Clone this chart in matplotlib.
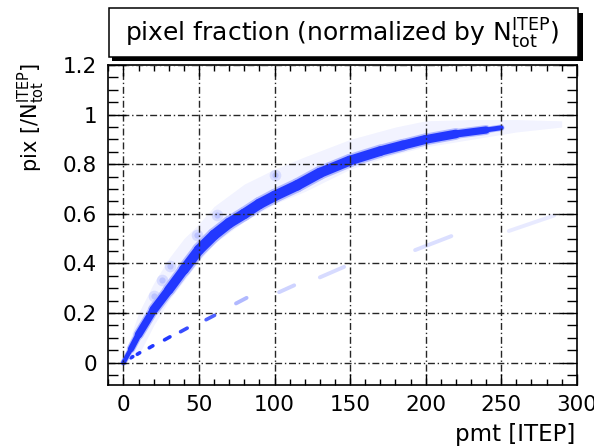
import numpy as np
import matplotlib
matplotlib.use('Agg')
import matplotlib.pyplot as plt
from matplotlib.collections import LineCollection
from matplotlib.patches import Rectangle
from matplotlib.ticker import MultipleLocator, FixedLocator, FixedFormatter

# ---- data ----
# dense main band (centre line)
pmt_band = [0, 5, 10, 20, 30, 40, 50, 60, 70, 80, 90, 100, 115, 130, 150,
            170, 185, 200, 220, 240, 250]
pix_band = [0, 0.055, 0.113, 0.213, 0.293, 0.375, 0.455, 0.515, 0.563, 0.60,
            0.64, 0.672, 0.715, 0.765, 0.815, 0.853, 0.877, 0.90, 0.922,
            0.938, 0.947]
band_width = [2.5, 4, 5, 6, 6.5, 7, 7.5, 7.5, 7.5, 7.5, 7.5, 7.5, 7.5, 7.5,
              7, 7, 6.5, 6.5, 6, 4.5, 2.5]

# faint scatter envelope around the band
halo_pmt = [0, 10, 20, 30, 40, 50, 60, 80, 100, 120, 150, 180, 200, 230,
            260, 290]
halo_lo = [0, 0.03, 0.15, 0.25, 0.33, 0.41, 0.48, 0.57, 0.64, 0.69, 0.78,
           0.84, 0.87, 0.90, 0.93, 0.95]
halo_hi = [0.02, 0.20, 0.32, 0.42, 0.50, 0.56, 0.63, 0.72, 0.78, 0.83, 0.90,
           0.95, 0.975, 0.98, 0.98, 0.975]

# denser blobs above the band
blob_pmt = [20, 25.5, 31, 49, 62, 100]
blob_pix = [0.27, 0.334, 0.39, 0.515, 0.597, 0.755]

# secondary (lower) clusters
sec_pmt = [5.6, 10, 18.3, 29, 40, 57.5, 78, 108, 138, 205, 270]
sec_pix = [0.022, 0.037, 0.064, 0.098, 0.132, 0.182, 0.25, 0.298, 0.365,
           0.482, 0.562]
sec_half = [0.6, 0.8, 1.2, 1.8, 2.2, 2.8, 3.5, 5, 8, 12, 15]
sec_weight = [1, 1, 1, 1, 0.9, 0.8, 0.35, 0.22, 0.18, 0.16, 0.1]

x_ticks = [0, 50, 100, 150, 200, 250, 300]
x_ticklabels = ['0', '50', '100', '150', '200', '250', '300']
y_ticks = [0, 0.2, 0.4, 0.6, 0.8, 1.0, 1.2]
y_ticklabels = ['0', '0.2', '0.4', '0.6', '0.8', '1', '1.2']

title = r'pixel fraction (normalized by N$^{\rm ITEP}_{\rm tot}$)'
xlabel = 'pmt [ITEP]'
ylabel = r'pix [/N$^{\rm ITEP}_{\rm tot}$]'

# ---- drawing ----
plt.rcParams['font.family'] = ['DejaVu Sans']
plt.rcParams['mathtext.fontset'] = 'dejavusans'

W, H = 594, 446
fig = plt.figure(figsize=(W / 100, H / 100), dpi=100)
ax = fig.add_axes([108.3 / W, 1 - 385 / H, 468.5 / W, 320 / H])
ax.set_xlim(-10, 300)
ax.set_ylim(-0.09, 1.2)

BLUE = '#2238ff'

# faint envelope
ax.fill_between(halo_pmt, halo_lo, halo_hi, color=BLUE, alpha=0.06, lw=0,
                zorder=1)
ax.scatter(blob_pmt, blob_pix, s=70, color=BLUE, alpha=0.12, lw=0, zorder=1)
ax.scatter(blob_pmt, blob_pix, s=20, color=BLUE, alpha=0.15, lw=0, zorder=1)

# secondary clusters
sx = np.array(sec_pmt)
sy = np.array(sec_pix)
slope = sy / sx
for x, y, h, w, k in zip(sx, sy, sec_half, sec_weight, slope):
    lw = 2.6 if x < 70 else 2.8
    ax.plot([x - h, x + h], [y - h * k, y + h * k], color=BLUE, alpha=w,
            lw=lw, solid_capstyle='round', zorder=1.5)

# main band
pts = np.column_stack([pmt_band, pix_band])
segs = np.stack([pts[:-1], pts[1:]], axis=1)
bw = np.array(band_width)
wseg = 0.5 * (bw[:-1] + bw[1:])
ax.add_collection(LineCollection(segs, linewidths=wseg * 1.35,
                                 colors='#b3baff', capstyle='round',
                                 zorder=1.8))
ax.add_collection(LineCollection(segs, linewidths=wseg, colors=BLUE,
                                 capstyle='round', zorder=1.9))

# axes styling (ROOT look)
ax.xaxis.set_major_locator(FixedLocator(x_ticks))
ax.xaxis.set_major_formatter(FixedFormatter(x_ticklabels))
ax.yaxis.set_major_locator(FixedLocator(y_ticks))
ax.yaxis.set_major_formatter(FixedFormatter(y_ticklabels))
ax.xaxis.set_minor_locator(MultipleLocator(10))
ax.yaxis.set_minor_locator(MultipleLocator(0.05))
ax.tick_params(which='both', direction='in', top=True, right=True,
               colors='black', width=1.0, labelsize=15.5)
ax.tick_params(axis='y', which='major', length=13, pad=8)
ax.tick_params(axis='y', which='minor', length=7.5)
ax.tick_params(axis='x', which='major', length=8, pad=7)
ax.tick_params(axis='x', which='minor', length=4)
for s in ax.spines.values():
    s.set_linewidth(1.2)
ax.set_axisbelow(False)
ax.grid(True, which='major', color='0.15', lw=1.0,
        linestyle=(0, (5, 2, 1, 2)))

# axis titles
fig.text(575 / W, 1 - 441.5 / H, xlabel, ha='right', va='baseline',
         fontsize=16.5)
fig.text(31 / W, 1 - 63 / H, ylabel, ha='center', va='top', rotation=90,
         fontsize=15)

# title box with shadow
fig.patches.append(Rectangle((112 / W, 1 - 60.5 / H), 471 / W, 48 / H,
                             transform=fig.transFigure, facecolor='black',
                             edgecolor='none', zorder=5))
fig.patches.append(Rectangle((108.5 / W, 1 - 56.5 / H), 469 / W, 48.5 / H,
                             transform=fig.transFigure, facecolor='white',
                             edgecolor='black', lw=1.1, zorder=6))
fig.text(342.5 / W, 1 - 41.5 / H, title, ha='center', va='baseline',
         fontsize=18, zorder=7)

fig.savefig('out.png', dpi=100)
